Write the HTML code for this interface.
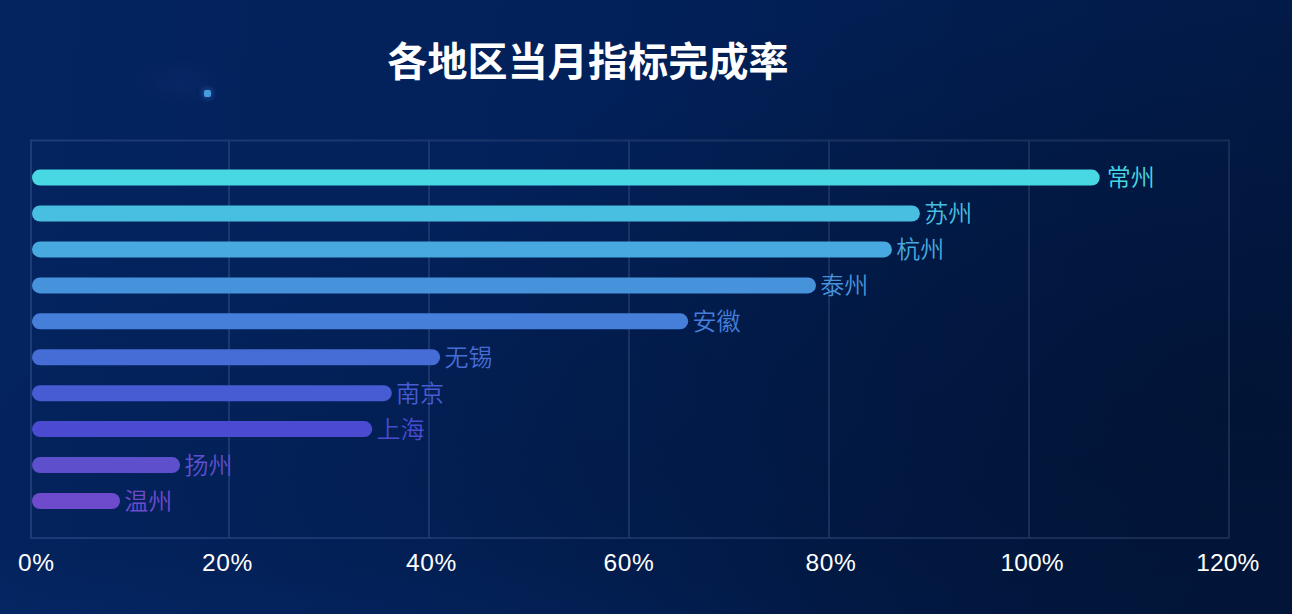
<!DOCTYPE html>
<html lang="zh-CN"><head><meta charset="utf-8"><title>各地区当月指标完成率</title>
<style>
html,body{margin:0;padding:0;}
body{width:1292px;height:614px;overflow:hidden;position:relative;background:#02204f;
font-family:"Liberation Sans","Noto Sans CJK SC",sans-serif;}
#bg{position:absolute;left:0;top:0;width:1292px;height:614px;
background:
 radial-gradient(ellipse 48px 26px at 182px 82px, rgba(70,80,180,0.07), rgba(70,80,180,0) 100%),
 radial-gradient(ellipse 600px 300px at 1292px 614px, rgba(1,18,48,0.5), rgba(1,18,48,0) 100%),
 radial-gradient(ellipse 850px 460px at 1250px 400px, rgba(1,18,48,0.74), rgba(1,18,48,0) 100%),
 radial-gradient(ellipse 620px 300px at 560px 480px, rgba(1,18,48,0.22), rgba(1,18,48,0) 100%),
 radial-gradient(ellipse 700px 60px at 12% 100%, rgba(20,80,170,0.06), rgba(20,80,170,0) 100%),
 linear-gradient(95deg,#03245f 0%,#03225c 25%,#022058 50%,#021d50 75%,#021b49 100%);}
#dot{position:absolute;left:203.5px;top:89.5px;width:7px;height:7px;background:#4b9ae0;border-radius:2px;box-shadow:0 0 5px 2px rgba(60,130,220,.35);filter:blur(0.5px);}
h1{position:absolute;left:0;top:0;margin:0;width:1176px;text-align:center;top:33px;line-height:58px;font-size:40px;font-weight:700;color:#fff;
font-family:"Liberation Sans","Noto Sans CJK SC",sans-serif;letter-spacing:0.15px;}
.g{position:absolute;background:#1b3a77;}
.bar{position:absolute;height:16px;border-radius:8px;left:32px;}
.lab{position:absolute;font-size:24px;line-height:30px;height:30px;font-weight:350;white-space:nowrap;}
.tick{position:absolute;top:547.8px;width:100px;margin-left:-50px;text-align:center;color:#fff;font-size:24.5px;letter-spacing:0.6px;line-height:30px;}
</style></head><body>
<div id="bg"></div>
<div id="dot"></div>
<h1>各地区当月指标完成率</h1>

<svg id="grid" width="1292" height="614" viewBox="0 0 1292 614" style="position:absolute;left:0;top:0">
<defs><linearGradient id="lg" x1="30" x2="1230" y1="0" y2="0" gradientUnits="userSpaceOnUse"><stop offset="0" stop-color="#1d3c7a"/><stop offset="0.5" stop-color="#1b3467"/><stop offset="1" stop-color="#1a2d52"/></linearGradient></defs>
<g fill="url(#lg)">
<rect x="30" y="139.55" width="1200" height="1.9"/>
<rect x="30" y="537.05" width="1200" height="1.9"/>
<rect x="30.05" y="139.55" width="1.9" height="399.4"/>
<rect x="228.05" y="139.55" width="1.9" height="399.4"/>
<rect x="428.05" y="139.55" width="1.9" height="399.4"/>
<rect x="628.05" y="139.55" width="1.9" height="399.4"/>
<rect x="828.05" y="139.55" width="1.9" height="399.4"/>
<rect x="1028.05" y="139.55" width="1.9" height="399.4"/>
<rect x="1228.05" y="139.55" width="1.9" height="399.4"/>
</g>
<rect x="32" y="169.60" width="1067.7" height="16" rx="8" ry="8" fill="#48d8e3"/>
<rect x="32" y="205.53" width="887.9" height="16" rx="8" ry="8" fill="#48bfe0"/>
<rect x="32" y="241.46" width="859.9" height="16" rx="8" ry="8" fill="#47a9df"/>
<rect x="32" y="277.39" width="784.0" height="16" rx="8" ry="8" fill="#4693dc"/>
<rect x="32" y="313.32" width="656.2" height="16" rx="8" ry="8" fill="#457fd9"/>
<rect x="32" y="349.25" width="408.1" height="16" rx="8" ry="8" fill="#466cd6"/>
<rect x="32" y="385.18" width="359.8" height="16" rx="8" ry="8" fill="#475bd3"/>
<rect x="32" y="421.11" width="340.2" height="16" rx="8" ry="8" fill="#4a4bd0"/>
<rect x="32" y="457.04" width="148.1" height="16" rx="8" ry="8" fill="#5e4fcc"/>
<rect x="32" y="492.97" width="88.0" height="16" rx="8" ry="8" fill="#6e4bcd"/>
</svg>
<div class="lab" style="left:1106.7px;top:163.30px;color:#48d8e3">常州</div>
<div class="lab" style="left:924.2px;top:199.23px;color:#48bfe0">苏州</div>
<div class="lab" style="left:896.2px;top:235.16px;color:#47a9df">杭州</div>
<div class="lab" style="left:820.3px;top:271.09px;color:#4693dc">泰州</div>
<div class="lab" style="left:692.5px;top:307.02px;color:#457fd9">安徽</div>
<div class="lab" style="left:444.4px;top:342.95px;color:#466cd6">无锡</div>
<div class="lab" style="left:396.1px;top:378.88px;color:#475bd3">南京</div>
<div class="lab" style="left:376.5px;top:414.81px;color:#4a4bd0">上海</div>
<div class="lab" style="left:184.4px;top:450.74px;color:#5e4fcc">扬州</div>
<div class="lab" style="left:124.3px;top:486.67px;color:#6e4bcd">温州</div>
<div class="tick" style="left:36.3px">0%</div>
<div class="tick" style="left:227.5px">20%</div>
<div class="tick" style="left:431.4px">40%</div>
<div class="tick" style="left:629px">60%</div>
<div class="tick" style="left:831px">80%</div>
<div class="tick" style="left:1032px;letter-spacing:0.1px">100%</div>
<div class="tick" style="left:1227.9px;letter-spacing:0.1px">120%</div>
</body></html>
